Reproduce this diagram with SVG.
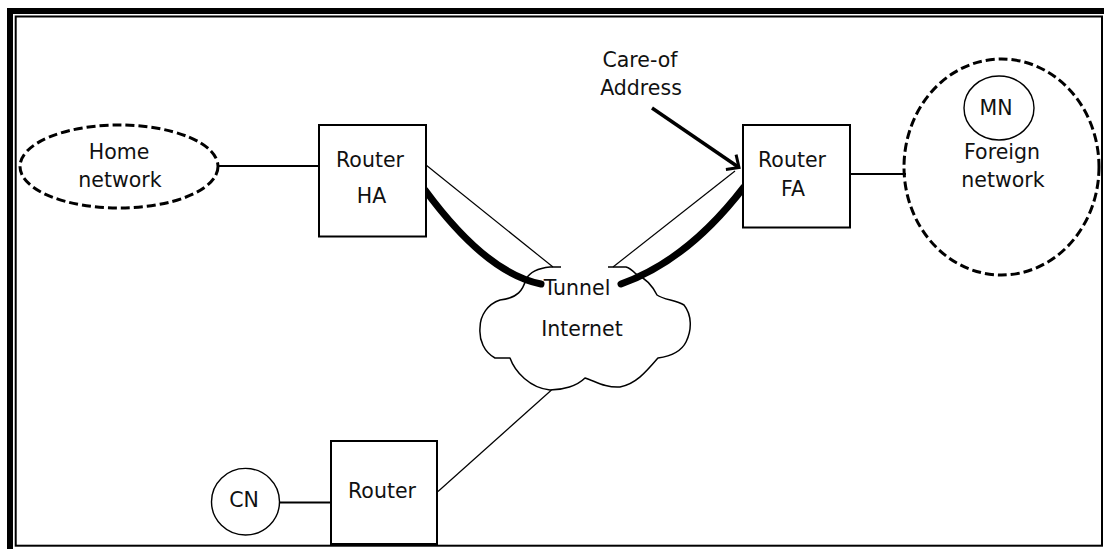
<svg xmlns="http://www.w3.org/2000/svg" width="1104" height="549" viewBox="0 0 1104 549">
  <style>
    .box { fill: #fff; stroke: #000; stroke-width: 2; }
    .net { fill: none; stroke: #000; stroke-width: 3; stroke-dasharray: 9 4; }
    .host { fill: #fff; stroke: #000; stroke-width: 1.4; }
    .link { fill: none; stroke: #000; stroke-width: 2; }
    .thin { fill: none; stroke: #000; stroke-width: 1.2; }
    .tunnel { fill: none; stroke: #000; stroke-width: 7; stroke-linecap: round; }
    .cloud { fill: none; stroke: #000; stroke-width: 1.5; stroke-linejoin: round; }
    text { font-family: "DejaVu Sans", "Liberation Sans", sans-serif; font-size: 20.5px; fill: #111; text-anchor: middle; }
  </style>
  <defs>
    <marker id="openArrow" markerUnits="userSpaceOnUse" markerWidth="24" markerHeight="24" viewBox="-12 -12 24 24" refX="0" refY="0" orient="auto">
      <path d="M -9.7,-9 L 0,0 L -9.7,9" fill="none" stroke="#000" stroke-width="3"/>
    </marker>
  </defs>

  <rect width="1104" height="549" fill="#fff"/>

  <!-- frame -->
  <g id="frame">
    <rect x="7" y="8" width="1097" height="6" fill="#000"/>
    <rect x="7" y="8" width="6" height="541" fill="#000"/>
    <rect x="15.7" y="16.5" width="1086.3" height="529.2" fill="none" stroke="#000" stroke-width="2"/>
  </g>

  <!-- connectors -->
  <g id="connectors">
    <line class="link" x1="218" y1="166" x2="319" y2="166"/>
    <line class="link" x1="850" y1="174" x2="906" y2="174"/>
    <line class="link" x1="279" y1="502.5" x2="331" y2="502.5"/>
    <line class="thin" x1="438" y1="491.5" x2="551.5" y2="390"/>
    <line class="thin" x1="426" y1="165" x2="553" y2="267"/>
    <line class="thin" x1="735" y1="171" x2="613" y2="267"/>
    <path class="tunnel" d="M 425,190 Q 486,273 541,284"/>
    <path class="tunnel" d="M 744,187 Q 687.5,260.5 621,284"/>
    <line x1="652" y1="108" x2="739" y2="167.5" stroke="#000" stroke-width="3.5" marker-end="url(#openArrow)"/>
  </g>

  <!-- Internet cloud -->
  <g id="internet">
    <path class="cloud" d="M 561,267 L 550,267 C 540,268 530,272 526,279 C 523,290 518,298 500,300 C 488,304 480,315 480,328 C 479,340 484,352 495,358 L 510,358 C 515,372 530,388 550,390 C 563,390 577,386 585,378 C 595,381 605,388 620,387 C 636,384 646,372 658,358 C 672,356 682,350 686,342 C 692,330 692,315 684,305 C 676,300 664,300 657,295 C 652,285 645,278 636,274 C 632,270 630,268 626,267 L 608,267"/>
    <text x="577" y="295">Tunnel</text>
    <text x="582" y="336">Internet</text>
  </g>

  <g id="home-network">
    <ellipse class="net" cx="119" cy="166.5" rx="99" ry="41.5"/>
    <text x="119" y="159">Home</text>
    <text x="120" y="187">network</text>
  </g>

  <g id="router-ha">
    <rect class="box" x="319" y="125" width="107" height="111.5"/>
    <text x="370" y="167">Router</text>
    <text x="371.5" y="203">HA</text>
  </g>

  <g id="router-fa">
    <rect class="box" x="743" y="125" width="107" height="102.5"/>
    <text x="792" y="167">Router</text>
    <text x="793" y="196">FA</text>
  </g>

  <g id="foreign-network">
    <ellipse class="net" cx="1001.5" cy="167" rx="97.5" ry="108"/>
    <text x="1002" y="159">Foreign</text>
    <text x="1003" y="187">network</text>
  </g>

  <g id="mn">
    <ellipse class="host" cx="999" cy="108" rx="35" ry="32"/>
    <text x="996" y="115">MN</text>
  </g>

  <g id="care-of-address">
    <text x="640" y="67">Care-of</text>
    <text x="641" y="95">Address</text>
  </g>

  <g id="router-cn">
    <rect class="box" x="331" y="441" width="106" height="103"/>
    <text x="382" y="498">Router</text>
  </g>

  <g id="cn">
    <ellipse class="host" cx="245.5" cy="501.7" rx="34" ry="33.3"/>
    <text x="244" y="507">CN</text>
  </g>
</svg>
